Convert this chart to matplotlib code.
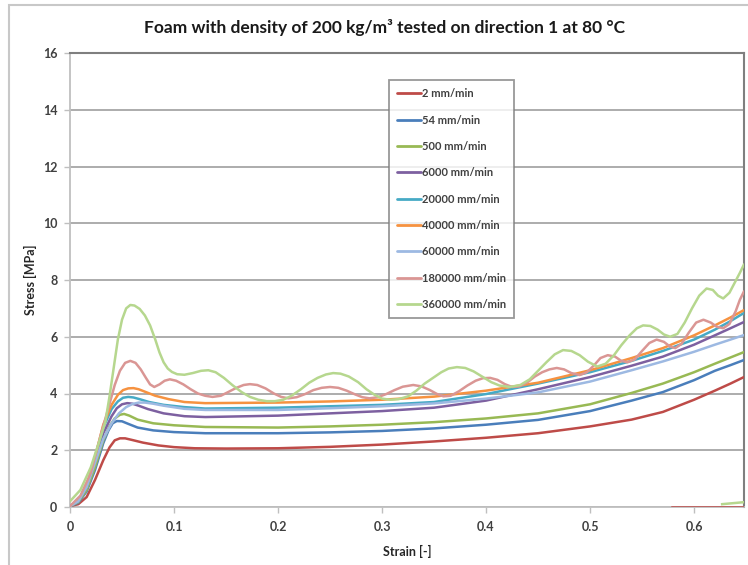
import matplotlib
matplotlib.use("Agg")
import matplotlib.pyplot as plt
from matplotlib.patches import Rectangle

plt.rcParams['font.family'] = ['Lato', 'DejaVu Sans']

# ---- data: compression curves, strain [-] vs stress [MPa] ----
labels = ["2 mm/min", "54 mm/min", "500 mm/min", "6000 mm/min", "20000 mm/min",
          "40000 mm/min", "60000 mm/min", "180000 mm/min", "360000 mm/min"]
colors = ["#BE4B48", "#4A7EBB", "#98B954", "#7D60A0", "#46AAC5",
          "#F69240", "#9DB9E2", "#DA9694", "#B6D78E"]

strain_2 = [0, 0.008, 0.016, 0.024, 0.032, 0.038, 0.043, 0.048, 0.053, 0.06, 0.07,
            0.085, 0.1, 0.12, 0.15, 0.2, 0.25, 0.3, 0.35, 0.4, 0.45, 0.5, 0.54,
            0.57, 0.6, 0.62, 0.635, 0.648]
stress_2 = [0.03, 0.1, 0.35, 0.95, 1.65, 2.1, 2.35, 2.42, 2.42, 2.36, 2.27,
            2.17, 2.11, 2.07, 2.06, 2.07, 2.12, 2.2, 2.31, 2.44, 2.6, 2.84, 3.08,
            3.35, 3.78, 4.1, 4.35, 4.58]

strain_54 = [0, 0.008, 0.016, 0.024, 0.032, 0.037, 0.041, 0.045, 0.05, 0.056, 0.065,
             0.08, 0.1, 0.13, 0.2, 0.25, 0.3, 0.35, 0.4, 0.45, 0.5, 0.54, 0.57,
             0.6, 0.62, 0.635, 0.648]
stress_54 = [0.03, 0.15, 0.55, 1.3, 2.25, 2.7, 2.95, 3.03, 3.02, 2.93, 2.8,
             2.7, 2.64, 2.6, 2.6, 2.63, 2.68, 2.77, 2.9, 3.07, 3.38, 3.75, 4.05,
             4.47, 4.8, 5.0, 5.18]

strain_500 = [0, 0.008, 0.016, 0.024, 0.032, 0.038, 0.043, 0.048, 0.052, 0.057, 0.065,
              0.08, 0.1, 0.13, 0.2, 0.25, 0.3, 0.35, 0.4, 0.45, 0.5, 0.54, 0.57,
              0.6, 0.62, 0.635, 0.648]
stress_500 = [0.03, 0.17, 0.6, 1.4, 2.35, 2.85, 3.12, 3.25, 3.28, 3.22, 3.08,
              2.95, 2.88, 2.82, 2.8, 2.84, 2.9, 2.99, 3.12, 3.3, 3.62, 4.02, 4.35,
              4.75, 5.05, 5.27, 5.46]

strain_6000 = [0, 0.008, 0.016, 0.024, 0.032, 0.04, 0.045, 0.05, 0.055, 0.06, 0.066,
               0.075, 0.09, 0.11, 0.13, 0.2, 0.25, 0.3, 0.35, 0.4, 0.45, 0.5, 0.54,
               0.57, 0.6, 0.62, 0.635, 0.648]
stress_6000 = [0.03, 0.2, 0.7, 1.6, 2.6, 3.2, 3.48, 3.62, 3.66, 3.64, 3.57,
               3.45, 3.3, 3.2, 3.17, 3.22, 3.3, 3.38, 3.5, 3.75, 4.15, 4.58, 4.98,
               5.3, 5.72, 6.05, 6.3, 6.52]

strain_20000 = [0, 0.008, 0.016, 0.024, 0.032, 0.04, 0.046, 0.051, 0.056, 0.061, 0.067,
                0.076, 0.09, 0.11, 0.13, 0.2, 0.25, 0.3, 0.35, 0.4, 0.45, 0.5, 0.54,
                0.57, 0.6, 0.62, 0.635, 0.648]
stress_20000 = [0.03, 0.2, 0.72, 1.7, 2.8, 3.45, 3.72, 3.85, 3.88, 3.86, 3.8,
                3.7, 3.6, 3.52, 3.47, 3.5, 3.55, 3.6, 3.7, 3.98, 4.35, 4.75, 5.15,
                5.5, 5.9, 6.25, 6.55, 6.84]

strain_40000 = [0, 0.008, 0.016, 0.024, 0.032, 0.04, 0.046, 0.051, 0.056, 0.061, 0.066,
                0.073, 0.082, 0.095, 0.11, 0.13, 0.2, 0.25, 0.3, 0.35, 0.4, 0.45,
                0.5, 0.54, 0.57, 0.6, 0.62, 0.635, 0.648]
stress_40000 = [0.03, 0.22, 0.75, 1.75, 2.9, 3.6, 3.95, 4.12, 4.18, 4.19, 4.15,
                4.05, 3.92, 3.8, 3.7, 3.66, 3.68, 3.72, 3.78, 3.89, 4.1, 4.38,
                4.82, 5.25, 5.6, 6.05, 6.4, 6.68, 6.94]

strain_60000 = [0, 0.008, 0.016, 0.024, 0.032, 0.04, 0.047, 0.054, 0.06, 0.066, 0.072,
                0.08, 0.09, 0.11, 0.13, 0.2, 0.25, 0.3, 0.35, 0.4, 0.45, 0.5, 0.54,
                0.57, 0.6, 0.62, 0.635, 0.648]
stress_60000 = [0.03, 0.2, 0.7, 1.55, 2.4, 2.95, 3.3, 3.52, 3.63, 3.68, 3.68,
                3.64, 3.57, 3.46, 3.42, 3.42, 3.48, 3.55, 3.65, 3.82, 4.04, 4.42, 4.82,
                5.13, 5.47, 5.72, 5.9, 6.06]

strain_180000 = [0, 0.01, 0.02, 0.03, 0.037, 0.043, 0.048, 0.053, 0.058, 0.063, 0.068,
                 0.073, 0.077, 0.081, 0.086, 0.091, 0.096, 0.102, 0.109, 0.116, 0.123,
                 0.13, 0.137, 0.145, 0.152, 0.16, 0.167, 0.173, 0.18, 0.188, 0.196,
                 0.203, 0.21, 0.218, 0.226, 0.234, 0.242, 0.25, 0.258, 0.266, 0.274,
                 0.281, 0.288, 0.296, 0.304, 0.312, 0.32, 0.33, 0.338, 0.346, 0.353,
                 0.359, 0.366, 0.374, 0.382, 0.39, 0.397, 0.404, 0.411, 0.418, 0.425,
                 0.432, 0.44, 0.447, 0.454, 0.461, 0.468, 0.475, 0.482, 0.49, 0.497,
                 0.504, 0.51, 0.517, 0.524, 0.53, 0.536, 0.543, 0.55, 0.557, 0.564,
                 0.571, 0.577, 0.582, 0.588, 0.595, 0.602, 0.609, 0.616, 0.622, 0.628,
                 0.634, 0.64, 0.644, 0.648]
stress_180000 = [0.03, 0.4, 1.2, 2.6, 3.5, 4.3, 4.8, 5.08, 5.15, 5.08, 4.85,
                 4.55, 4.32, 4.23, 4.32, 4.45, 4.5, 4.45, 4.32, 4.15, 4.0,
                 3.92, 3.88, 3.92, 4.05, 4.2, 4.3, 4.33, 4.3, 4.18, 4.0,
                 3.88, 3.83, 3.87, 3.98, 4.12, 4.2, 4.23, 4.2, 4.1, 3.97,
                 3.87, 3.83, 3.87, 3.98, 4.12, 4.24, 4.3, 4.25, 4.12, 3.98,
                 3.9, 3.92, 4.08, 4.28, 4.45, 4.54, 4.55, 4.48, 4.33, 4.23,
                 4.25, 4.4, 4.6, 4.75, 4.85, 4.9, 4.85, 4.72, 4.65, 4.75,
                 5.0, 5.25, 5.35, 5.3, 5.15, 5.1, 5.2, 5.5, 5.78, 5.9,
                 5.82, 5.65, 5.6, 5.75, 6.15, 6.5, 6.6, 6.5, 6.35, 6.3,
                 6.45, 6.9, 7.3, 7.6]

strain_360000 = [0, 0.01, 0.02, 0.028, 0.034, 0.038, 0.042, 0.046, 0.05, 0.054, 0.058,
                 0.062, 0.067, 0.072, 0.077, 0.082, 0.086, 0.09, 0.094, 0.098, 0.103,
                 0.11, 0.118, 0.126, 0.133, 0.14, 0.148, 0.156, 0.165, 0.173, 0.181,
                 0.189, 0.197, 0.205, 0.213, 0.222, 0.23, 0.238, 0.246, 0.253, 0.26,
                 0.268, 0.277, 0.285, 0.293, 0.3, 0.308, 0.316, 0.325, 0.333, 0.341,
                 0.349, 0.357, 0.364, 0.372, 0.38, 0.388, 0.397, 0.405, 0.413, 0.423,
                 0.433, 0.442, 0.45, 0.458, 0.466, 0.474, 0.482, 0.49, 0.498, 0.507,
                 0.515, 0.523, 0.53, 0.538, 0.545, 0.551, 0.558, 0.565, 0.571, 0.577,
                 0.584, 0.591, 0.598, 0.605, 0.612, 0.618, 0.623, 0.628, 0.634, 0.639,
                 0.644, 0.648]
stress_360000 = [0.2, 0.6, 1.4, 2.3, 3.0, 3.9, 4.9, 5.9, 6.6, 7.0, 7.12,
                 7.1, 6.98, 6.75, 6.4, 5.9, 5.45, 5.1, 4.88, 4.76, 4.68,
                 4.66, 4.72, 4.8, 4.82, 4.75, 4.55, 4.3, 4.05, 3.88, 3.78,
                 3.73, 3.73, 3.78, 3.92, 4.15, 4.38, 4.55, 4.67, 4.72, 4.7,
                 4.6, 4.4, 4.15, 3.95, 3.82, 3.78, 3.8, 3.9, 4.1, 4.35,
                 4.55, 4.75, 4.88, 4.93, 4.9, 4.78, 4.58, 4.4, 4.28, 4.23,
                 4.3, 4.5, 4.8, 5.1, 5.38, 5.53, 5.5, 5.35, 5.12, 4.95,
                 5.05, 5.35, 5.7, 6.05, 6.3, 6.4, 6.38, 6.25, 6.08, 6.0,
                 6.1, 6.5, 7.0, 7.45, 7.7, 7.65, 7.45, 7.35, 7.55, 7.9,
                 8.25, 8.55]

# unloading records at the end of the 2 and 360000 mm/min tests
tail_strain_2 = [0.579, 0.648]
tail_stress_2 = [0.0, 0.0]
tail_strain_360000 = [0.627, 0.648]
tail_stress_360000 = [0.1, 0.17]

series = [(strain_2, stress_2), (strain_54, stress_54), (strain_500, stress_500),
          (strain_6000, stress_6000), (strain_20000, stress_20000),
          (strain_40000, stress_40000), (strain_60000, stress_60000),
          (strain_180000, stress_180000), (strain_360000, stress_360000)]

y_ticks = [0, 2, 4, 6, 8, 10, 12, 14, 16]
x_ticks = [0, 0.1, 0.2, 0.3, 0.4, 0.5, 0.6]
x_tick_labels = ["0", "0.1", "0.2", "0.3", "0.4", "0.5", "0.6"]

# ---- figure ----
fig = plt.figure(figsize=(7.48, 5.65), dpi=100)
W, H = 748, 565

# outer chart frame
fig.patches.append(Rectangle((9 / W, -0.1), 1.2, 1 - 5 / H + 0.1,
                             transform=fig.transFigure, fill=False,
                             edgecolor="#C8C8C8", lw=1.5))

ax = fig.add_axes([70 / W, 1 - 507 / H, (744 - 70) / W, (507 - 53) / H])

for (sx, sy), lab, c in zip(series, labels, colors):
    ax.plot(sx, sy, color=c, lw=1.8, label=lab, solid_capstyle="round",
            solid_joinstyle="round", zorder=3)
ax.plot(tail_strain_2, tail_stress_2, color=colors[0], lw=1.8, zorder=3)
ax.plot(tail_strain_360000, tail_stress_360000, color=colors[8], lw=1.8, zorder=3)

ax.set_xlim(0, 0.648)
ax.set_ylim(0, 16)
ax.set_yticks(y_ticks)
ax.set_yticklabels([str(v) for v in y_ticks])
ax.set_xticks(x_ticks)
ax.set_xticklabels(x_tick_labels)

ax.grid(axis="y", color="#A6A6A6", lw=1.3, zorder=1)
ax.set_axisbelow(True)

for side in ("top", "right"):
    ax.spines[side].set_color("#7F7F7F")
    ax.spines[side].set_linewidth(1.5)
for side in ("left", "bottom"):
    ax.spines[side].set_color("#BFBFBF")
    ax.spines[side].set_linewidth(1.3)

ax.tick_params(axis="both", direction="out", length=4, width=1, color="#BFBFBF",
               labelsize=9, labelcolor="#404040")
ax.tick_params(axis="x", pad=6)
ax.tick_params(axis="y", pad=5)
for t in ax.get_xticklabels() + ax.get_yticklabels():
    t.set_fontweight("bold")

ax.set_xlabel("Strain [-]", fontsize=9, fontweight="bold", color="#262626", labelpad=9)
ax.set_ylabel("Stress [MPa]", fontsize=9, fontweight="bold", color="#262626", labelpad=4)

fig.text(385 / W, 1 - 28 / H, "Foam with density of 200 kg/m³ tested on direction 1 at 80 °C",
         ha="center", va="center", fontsize=12.5, fontweight="bold", color="#1A1A1A")

leg = ax.legend(loc="upper left", bbox_to_anchor=(389 / W, 1 - 80 / H),
                bbox_transform=fig.transFigure, frameon=True, fancybox=False,
                fontsize=8, handlelength=2.1, handletextpad=0.1,
                labelspacing=1.38, borderpad=0.75, borderaxespad=0)
leg.get_frame().set_edgecolor("#7F7F7F")
leg.get_frame().set_linewidth(1.3)
for t in leg.get_texts():
    t.set_color("#404040")
    t.set_fontweight("bold")
for l in leg.get_lines():
    l.set_linewidth(2)

fig.savefig("out.png", dpi=100)
